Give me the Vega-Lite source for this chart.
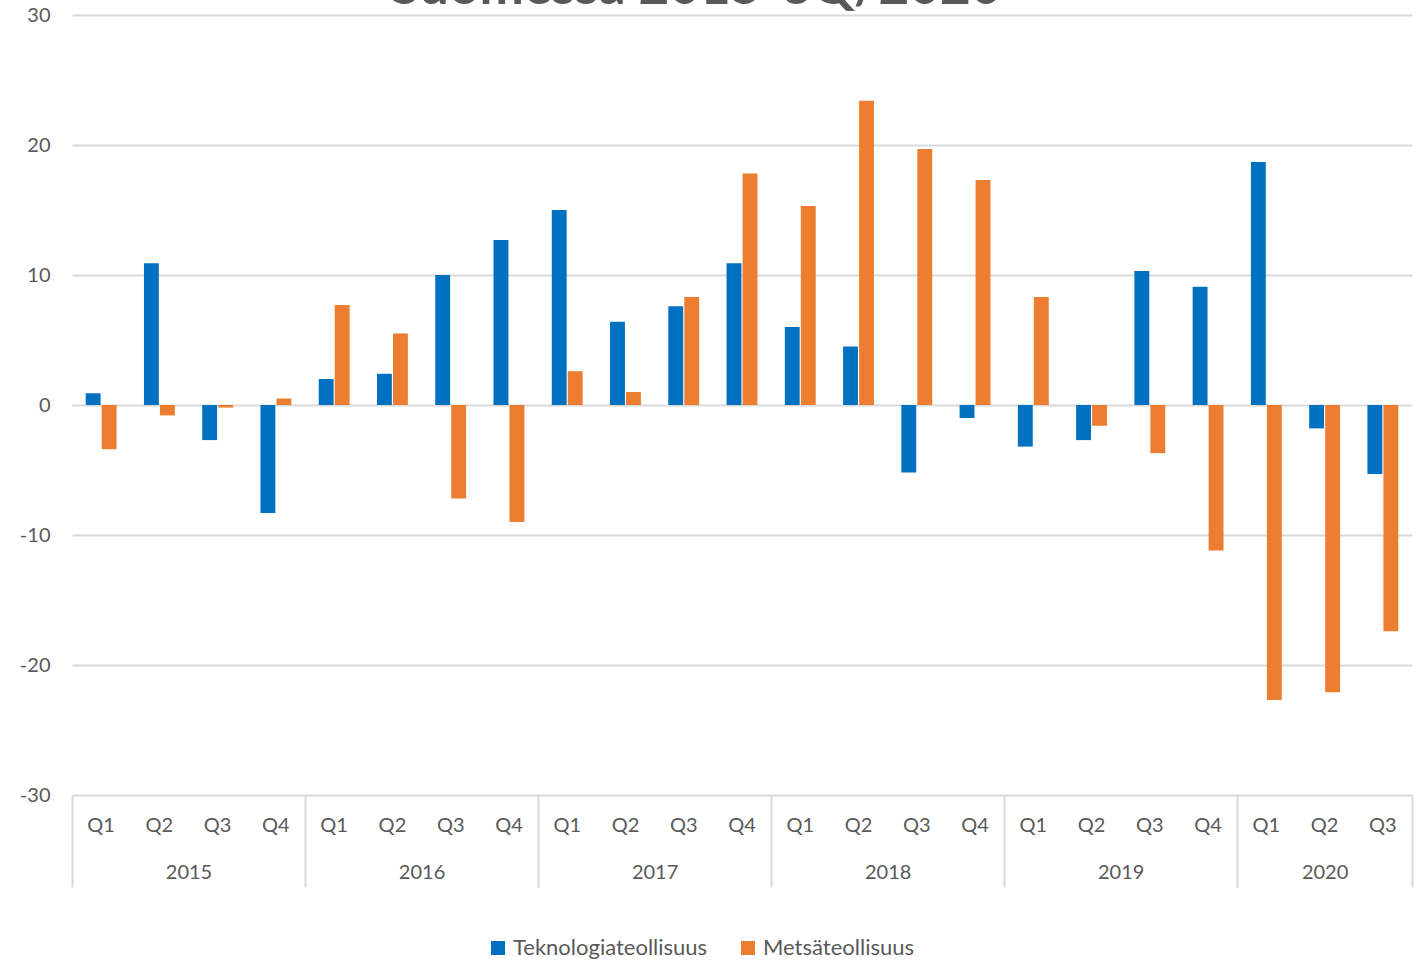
{
  "$schema": "https://vega.github.io/schema/vega-lite/v6.json",
  "width": 1340,
  "height": 780,
  "autosize": "none",
  "padding": {"left": 72, "top": 15, "right": 15, "bottom": 166},
  "background": "white",
  "title": {"text": "Suomessa 2015-3Q/2020", "font": "Lato", "fontSize": 53, "fontWeight": "bold", "color": "#595959", "anchor": "middle", "baseline": "alphabetic", "offset": 0, "dx": -46, "dy": 52},
  "config": {
    "view": {"stroke": null},
    "axis": {"labelFont": "Lato", "labelFontSize": 20, "labelColor": "#595959", "domain": false, "ticks": false, "grid": false, "title": null},
    "legend": {"labelFont": "Lato", "labelFontSize": 22, "labelColor": "#595959", "labelLimit": 500}
  },
  "datasets": {
    "bars": [
      {"q": "2015 Q1", "s": "Teknologiateollisuus", "v": 0.9}, {"q": "2015 Q1", "s": "Metsäteollisuus", "v": -3.4},
      {"q": "2015 Q2", "s": "Teknologiateollisuus", "v": 10.9}, {"q": "2015 Q2", "s": "Metsäteollisuus", "v": -0.8},
      {"q": "2015 Q3", "s": "Teknologiateollisuus", "v": -2.7}, {"q": "2015 Q3", "s": "Metsäteollisuus", "v": -0.2},
      {"q": "2015 Q4", "s": "Teknologiateollisuus", "v": -8.3}, {"q": "2015 Q4", "s": "Metsäteollisuus", "v": 0.5},
      {"q": "2016 Q1", "s": "Teknologiateollisuus", "v": 2.0}, {"q": "2016 Q1", "s": "Metsäteollisuus", "v": 7.7},
      {"q": "2016 Q2", "s": "Teknologiateollisuus", "v": 2.4}, {"q": "2016 Q2", "s": "Metsäteollisuus", "v": 5.5},
      {"q": "2016 Q3", "s": "Teknologiateollisuus", "v": 10.0}, {"q": "2016 Q3", "s": "Metsäteollisuus", "v": -7.2},
      {"q": "2016 Q4", "s": "Teknologiateollisuus", "v": 12.7}, {"q": "2016 Q4", "s": "Metsäteollisuus", "v": -9.0},
      {"q": "2017 Q1", "s": "Teknologiateollisuus", "v": 15.0}, {"q": "2017 Q1", "s": "Metsäteollisuus", "v": 2.6},
      {"q": "2017 Q2", "s": "Teknologiateollisuus", "v": 6.4}, {"q": "2017 Q2", "s": "Metsäteollisuus", "v": 1.0},
      {"q": "2017 Q3", "s": "Teknologiateollisuus", "v": 7.6}, {"q": "2017 Q3", "s": "Metsäteollisuus", "v": 8.3},
      {"q": "2017 Q4", "s": "Teknologiateollisuus", "v": 10.9}, {"q": "2017 Q4", "s": "Metsäteollisuus", "v": 17.8},
      {"q": "2018 Q1", "s": "Teknologiateollisuus", "v": 6.0}, {"q": "2018 Q1", "s": "Metsäteollisuus", "v": 15.3},
      {"q": "2018 Q2", "s": "Teknologiateollisuus", "v": 4.5}, {"q": "2018 Q2", "s": "Metsäteollisuus", "v": 23.4},
      {"q": "2018 Q3", "s": "Teknologiateollisuus", "v": -5.2}, {"q": "2018 Q3", "s": "Metsäteollisuus", "v": 19.7},
      {"q": "2018 Q4", "s": "Teknologiateollisuus", "v": -1.0}, {"q": "2018 Q4", "s": "Metsäteollisuus", "v": 17.3},
      {"q": "2019 Q1", "s": "Teknologiateollisuus", "v": -3.2}, {"q": "2019 Q1", "s": "Metsäteollisuus", "v": 8.3},
      {"q": "2019 Q2", "s": "Teknologiateollisuus", "v": -2.7}, {"q": "2019 Q2", "s": "Metsäteollisuus", "v": -1.6},
      {"q": "2019 Q3", "s": "Teknologiateollisuus", "v": 10.3}, {"q": "2019 Q3", "s": "Metsäteollisuus", "v": -3.7},
      {"q": "2019 Q4", "s": "Teknologiateollisuus", "v": 9.1}, {"q": "2019 Q4", "s": "Metsäteollisuus", "v": -11.2},
      {"q": "2020 Q1", "s": "Teknologiateollisuus", "v": 18.7}, {"q": "2020 Q1", "s": "Metsäteollisuus", "v": -22.7},
      {"q": "2020 Q2", "s": "Teknologiateollisuus", "v": -1.8}, {"q": "2020 Q2", "s": "Metsäteollisuus", "v": -22.1},
      {"q": "2020 Q3", "s": "Teknologiateollisuus", "v": -5.3}, {"q": "2020 Q3", "s": "Metsäteollisuus", "v": -17.4}
    ],
    "years": [
      {"year": "2015", "mid": 2}, {"year": "2016", "mid": 6}, {"year": "2017", "mid": 10},
      {"year": "2018", "mid": 14}, {"year": "2019", "mid": 18}, {"year": "2020", "mid": 21.5}
    ],
    "seps": [
      {"pos": 0}, {"pos": 4}, {"pos": 8}, {"pos": 12}, {"pos": 16}, {"pos": 20}, {"pos": 23}
    ]
  },
  "layer": [
    {
      "data": {"name": "bars"},
      "mark": {"type": "bar"},
      "encoding": {
        "x": {"field": "q", "type": "nominal", "sort": null,
              "scale": {"paddingInner": 0.47, "paddingOuter": 0.235},
              "axis": {"labelExpr": "split(datum.value, ' ')[1]", "labelAngle": 0, "labelPadding": 30, "labelBaseline": "middle"}},
        "xOffset": {"field": "s", "type": "nominal", "sort": ["Teknologiateollisuus", "Metsäteollisuus"], "scale": {"paddingInner": 0.07, "paddingOuter": 0}},
        "y": {"field": "v", "type": "quantitative",
              "scale": {"domain": [-30, 30], "nice": false},
              "axis": {"values": [-30, -20, -10, 0, 10, 20, 30], "labelExpr": "toString(datum.value)", "grid": true, "gridColor": "#d9d9d9", "gridWidth": 2, "labelPadding": 22, "labelBaseline": "middle"}},
        "color": {"field": "s", "type": "nominal",
                  "scale": {"domain": ["Teknologiateollisuus", "Metsäteollisuus"], "range": ["#0070c0", "#ed7d31"]},
                  "legend": {"orient": "none", "legendX": 415, "legendY": 922, "direction": "horizontal", "title": null, "symbolType": "square", "symbolSize": 196, "symbolStrokeWidth": 0, "labelOffset": 4, "columnPadding": 29, "padding": 0}}
      }
    },
    {
      "data": {"name": "years"},
      "mark": {"type": "point", "opacity": 0},
      "encoding": {
        "x": {"field": "mid", "type": "quantitative", "scale": {"domain": [0, 23], "nice": false, "zero": false},
              "axis": {"orient": "bottom", "values": [2, 6, 10, 14, 18, 21.5], "labelExpr": "datum.value == 21.5 ? '2020' : '' + (2015 + (datum.value - 2) / 4)", "labelPadding": 77, "labelBaseline": "middle", "labelFlush": false}}
      }
    },
    {
      "data": {"name": "seps"},
      "mark": {"type": "point", "opacity": 0},
      "encoding": {
        "x": {"field": "pos", "type": "quantitative", "scale": {"domain": [0, 23], "nice": false, "zero": false},
              "axis": {"orient": "bottom", "values": [0, 4, 8, 12, 16, 20, 23], "labels": false, "ticks": true, "tickSize": 92, "tickColor": "#d9d9d9", "tickWidth": 2}}
      }
    }
  ],
  "resolve": {"scale": {"x": "independent"}, "axis": {"x": "independent"}}
}
